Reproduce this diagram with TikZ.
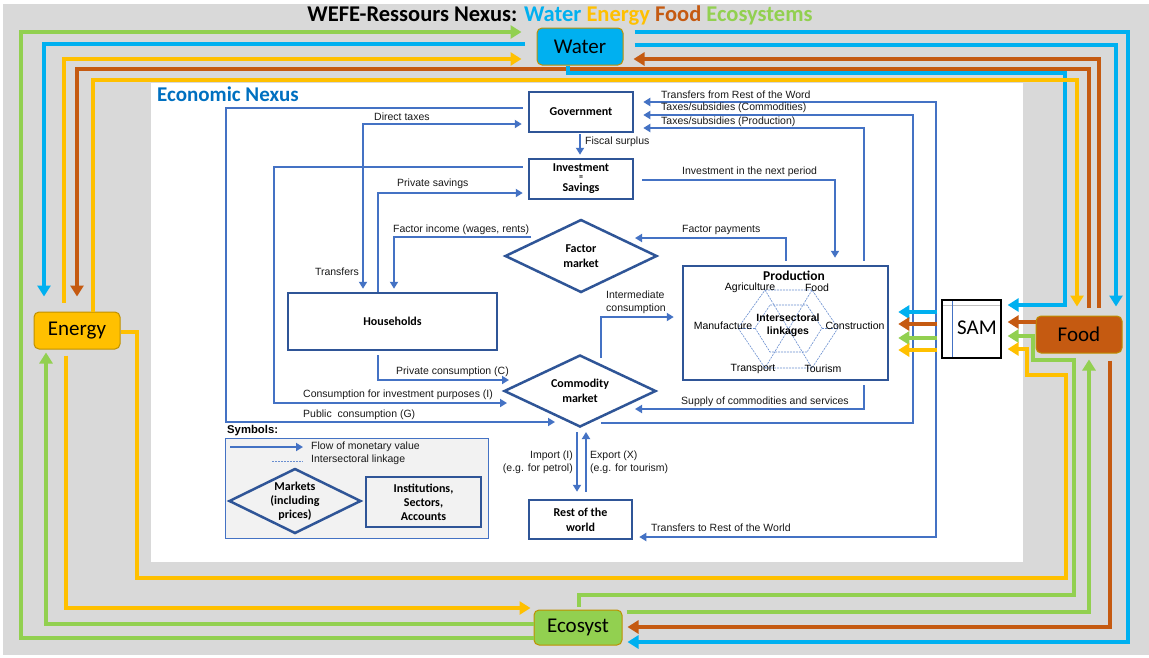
\documentclass[tikz,border=0pt]{standalone}
\usepackage{fontspec}
\setmainfont{Liberation Sans}
\newfontfamily\calfont{Carlito}
\usetikzlibrary{arrows.meta,shapes.geometric}
\definecolor{bl}{HTML}{4472C4}
\definecolor{dbl}{HTML}{2F5597}
\definecolor{cyw}{HTML}{00B0F0}
\definecolor{yel}{HTML}{FFC000}
\definecolor{brn}{HTML}{C55A11}
\definecolor{grn}{HTML}{92D050}
\definecolor{bggray}{HTML}{D9D9D9}
\definecolor{tblue}{HTML}{0070C0}
\definecolor{gold}{HTML}{BF9000}
\definecolor{legfill}{HTML}{F2F2F2}
\begin{document}
\begin{tikzpicture}[x=1pt,y=-1pt,
  flow/.style={draw=bl, line width=2.3pt, -{Triangle[length=7pt,width=8pt]}},
  dflow/.style={draw=bl, line width=2.3pt, {Triangle[length=7pt,width=8pt]}-{Triangle[length=7pt,width=8pt]}},
  box/.style={draw=dbl, line width=2.5pt, fill=white, font=\calfont\bfseries\fontsize{12}{15}\selectfont, align=center, inner sep=0pt},
  mkt/.style={diamond, draw=dbl, line width=2.5pt, fill=white, inner sep=0pt},
  mtxt/.style={font=\calfont\bfseries\fontsize{12}{15}\selectfont, align=center, inner sep=0pt},
  lbl/.style={font=\fontsize{10.5}{12.5}\selectfont, inner sep=0pt, text=black!90},
  sec/.style={font=\fontsize{10.5}{12}\selectfont, inner sep=0pt},
  res/.style={rounded corners=5pt, draw=gold, line width=1pt, font=\calfont\fontsize{21}{22}\selectfont, inner sep=0pt, minimum width=86pt, minimum height=37pt},
  wl/.style={line width=4pt, -{Triangle[length=11pt,width=13pt]}},
  link/.style={draw=bl!80, line width=0.6pt, dash pattern=on 2pt off 1pt}
]
\useasboundingbox (0,0) rectangle (1149,657);
\fill[white] (0,0) rectangle (1149,657);
\fill[bggray] (3,4) rectangle (1149,655);
\fill[white] (151,83) rectangle (1023,562);

% title
\node[font=\calfont\bfseries\fontsize{22.5}{24}\selectfont, inner sep=0pt] (title) at (560,16)
  {WEFE-Ressours Nexus: \textcolor{cyw}{Water} \textcolor{yel}{Energy} \textcolor{brn}{Food} \textcolor{grn}{Ecosystems}};
\node[font=\calfont\bfseries\fontsize{21}{22}\selectfont, text=tblue, anchor=west, inner sep=0pt] (econ) at (157,94) {Economic Nexus};

% resource boxes
\node[res, fill=cyw] (water) at (580,46.5) {Water};
\node[res, fill=yel] (energy) at (77,330.5) {Energy};
\node[res, fill=brn] (food) at (1079,334.5) {Food};
\node[res, fill=grn, minimum width=88pt, minimum height=35pt] (eco) at (578,627.5) {Ecosyst};

% SAM
\node[draw=black, line width=1.2pt, fill=white, minimum width=59pt, minimum height=58pt, inner sep=0pt] (sam) at (971.5,329) {};
\draw[black!25, line width=0.6pt] (943,305) -- (1000,305);
\draw[bl, line width=0.8pt] (952,301) -- (952,357);
\node[font=\calfont\fontsize{21}{22}\selectfont, inner sep=0pt] (samt) at (977,328) {SAM};

% economic nodes
\node[box, minimum width=104pt, minimum height=40pt] (gov) at (581,112) {Government};
\node[box, minimum width=104pt, minimum height=40pt] (inv) at (581,179) {};
\node[font=\calfont\bfseries\fontsize{12}{13}\selectfont, inner sep=0pt] (invt) at (581,168) {Investment};
\node[font=\calfont\bfseries\fontsize{8}{8}\selectfont, inner sep=0pt] (inveq) at (581,178) {=};
\node[font=\calfont\bfseries\fontsize{12}{13}\selectfont, inner sep=0pt] (invs) at (581,188.5) {Savings};
\node[box, minimum width=103pt, minimum height=39pt] (row) at (580.5,519.5) {Rest of the\\world};
\node[box, minimum width=209pt, minimum height=57pt] (hh) at (392.5,321.5) {Households};
\node[box, minimum width=205pt, minimum height=114pt] (prod) at (785.5,323) {};
\node[mkt, minimum width=152pt, minimum height=73pt] (fm) at (581,256) {};
\node[mtxt] (fmt) at (fm.center) {Factor\\market};
\node[mkt, minimum width=152pt, minimum height=72pt] (cm) at (580,391) {};
\node[mtxt] (cmt) at (cm.center) {Commodity\\market};

% production internals
\draw[link] (765,290) -- (812,290) -- (838,328) -- (812,368) -- (765,368) -- (738,328) -- cycle;
\draw[link] (765,290) -- (812,368);
\draw[link] (812,290) -- (765,368);
\draw[link] (770,305) -- (807,305) -- (822,328) -- (807,352) -- (770,352) -- (755,328) -- cycle;
\draw[link] (738,328) -- (755,328);
\draw[link] (822,328) -- (838,328);
\node[font=\calfont\bfseries\fontsize{13.5}{14}\selectfont, inner sep=0pt] (prodt) at (794,276) {Production};
\node[sec] (agr) at (750,288) {Agriculture};
\node[sec] (fd) at (817,288) {Food};
\node[sec] (man) at (723,326) {Manufacture};
\node[sec] (con) at (855,326) {Construction};
\node[sec] (tra) at (753,369) {Transport};
\node[sec] (tou) at (823,369) {Tourism};
\node[font=\bfseries\fontsize{10.5}{13}\selectfont, inner sep=0pt, align=center] (isl) at (788,325) {Intersectoral\\linkages};

% monetary flows
\draw[flow, shorten <=5pt] (gov.west |- 0,108) -- (226,108) -- (226,422) -- (555,422);
\draw[dflow, shorten <=3pt, shorten >=6pt] (hh.north -| 363,0) -- (363,124) -- (gov.west |- 0,124);
\draw[flow, shorten <=5pt] (inv.west |- 0,167) -- (274,167) -- (274,403) -- (507,403);
\draw[flow, shorten >=5pt] (hh.north -| 378,0) -- (378,193) -- (inv.west |- 0,193);
\draw[flow, shorten >=3pt] (531,237) -- (394,237) -- (hh.north -| 394,0);
\draw[flow, shorten <=1pt, shorten >=3pt] (gov.south -| 580,0) -- (inv.north -| 580,0);
\draw[flow, shorten <=8pt, shorten >=7pt] (inv.east |- 0,180) -- (835,180) -- (prod.north -| 835,0);
\draw[flow, shorten <=4pt] (prod.north -| 786,0) -- (786,238) -- (635,238);
\draw[flow, shorten <=4pt, shorten >=9pt] (prod.north -| 864,0) -- (864,128) -- (gov.east |- 0,128);
\draw[flow, shorten >=9pt] (601,423) -- (913,423) -- (913,115) -- (gov.east |- 0,115);
\draw[dflow, shorten <=9pt, shorten >=6pt] (gov.east |- 0,102) -- (936,102) -- (936,537) -- (row.east |- 0,537);
\draw[flow, shorten <=4pt] (prod.south -| 864,0) -- (864,409) -- (635,409);
\draw[flow, shorten >=8pt] (601,358) -- (601,317) -- (prod.west |- 0,317);
\draw[flow, shorten <=4pt] (hh.south -| 378,0) -- (378,380) -- (509,380);
\draw[flow, shorten >=7pt] (577,432) -- (row.north -| 577,0);
\draw[flow, shorten <=7pt] (row.north -| 586,0) -- (586,432);

% flow labels
\node[lbl, anchor=west] (l1) at (374,117) {Direct taxes};
\node[lbl] (l2) at (337,272) {Transfers};
\node[lbl, anchor=west] (l3) at (397,184) {Private savings};
\node[lbl, anchor=west] (l4) at (393,230) {Factor income (wages, rents)};
\node[lbl, anchor=west] (l5) at (585,142) {Fiscal surplus};
\node[lbl, anchor=west] (l6) at (661,95) {Transfers from Rest of the Word};
\node[lbl, anchor=west] (l7) at (661,108) {Taxes/subsidies (Commodities)};
\node[lbl, anchor=west] (l8) at (661,122) {Taxes/subsidies (Production)};
\node[lbl, anchor=west] (l9) at (682,172) {Investment in the next period};
\node[lbl, anchor=west] (l10) at (682,230) {Factor payments};
\node[lbl, anchor=west, align=left] (l11) at (606,302.5) {Intermediate\\consumption};
\node[lbl, anchor=west] (l12) at (396,372) {Private consumption (C)};
\node[lbl, anchor=west] (l13) at (303,395) {Consumption for investment purposes (I)};
\node[lbl, anchor=west] (l14) at (303,415) {Public\ \ consumption (G)};
\node[lbl, anchor=east, align=right] (l15) at (573,462.5) {Import (I)\\(e.g. for petrol)};
\node[lbl, anchor=west, align=left] (l16) at (590,462.5) {Export (X)\\(e.g. for tourism)};
\node[lbl, anchor=west] (l17) at (681,402) {Supply of commodities and services};
\node[lbl, anchor=west] (l18) at (651,528) {Transfers to Rest of the World};

% legend
\node[font=\bfseries\fontsize{11.3}{13}\selectfont, anchor=west, inner sep=0pt] (symt) at (227,431) {Symbols:};
\node[draw=bl, fill=legfill, line width=1pt, minimum width=263pt, minimum height=100pt, inner sep=0pt] (legend) at (356.5,488) {};
\coordinate (la1) at (230,447);
\coordinate (la2) at (303,447);
\draw[flow] (la1) -- (la2);
\coordinate (lb1) at (272,461);
\coordinate (lb2) at (303,461);
\draw[link] (lb1) -- (lb2);
\node[lbl, anchor=west] (lg1) at (311,447) {Flow of monetary value};
\node[lbl, anchor=west] (lg2) at (311,460) {Intersectoral linkage};
\node[mkt, fill=none, minimum width=132pt, minimum height=65pt] (lgm) at (295,501) {};
\node[mtxt, font=\calfont\bfseries\fontsize{12}{14}\selectfont] (lgmt) at (lgm.center) {Markets\\(including\\prices)};
\node[box, fill=none, minimum width=115pt, minimum height=50pt, font=\calfont\bfseries\fontsize{12}{14}\selectfont] (lgi) at (423.5,502) {Institutions,\\Sectors,\\Accounts};

% WEFE resource flows
\draw[wl, draw=grn, shorten >=15pt] (eco.west |- 0,638) -- (21,638) -- (21,32) -- (water.west |- 0,32);
\draw[wl, draw=cyw, shorten <=12pt, shorten >=15pt] (water.west |- 0,44) -- (44,44) -- (energy.north -| 44,0);
\draw[wl, draw=yel, shorten <=9pt, shorten >=15pt] (energy.north -| 64,0) -- (64,59) -- (water.west |- 0,59);
\draw[wl, draw=brn, shorten <=8pt, shorten >=15pt] (food.north -| 1089,0) -- (1089,69) -- (77,69) -- (energy.north -| 77,0);
\draw[wl, draw=cyw, shorten >=6pt] (water.south -| 568,0) -- (568,73) -- (1065,73) -- (1065,305) -- (sam.east |- 0,305);
\draw[wl, draw=yel, shorten >=9pt] (energy.north -| 93,0) -- (93,80) -- (1077,80) -- (food.north -| 1077,0);
\draw[wl, draw=cyw, shorten <=11pt, shorten >=5pt] (water.east |- 0,32) -- (1128,32) -- (1128,642) -- (eco.east |- 0,642);
\draw[wl, draw=cyw, shorten <=11pt, shorten >=9pt] (water.east |- 0,45) -- (1116,45) -- (food.north -| 1116,0);
\draw[wl, draw=brn, shorten <=8pt, shorten >=10pt] (food.north -| 1099,0) -- (1099,59) -- (water.east |- 0,59);
\draw[wl, draw=brn, shorten >=6pt] (food.west |- 0,322) -- (sam.east |- 0,322);
\draw[wl, draw=grn, shorten <=3pt, shorten >=6pt] (eco.north -| 579,0) -- (579,595) -- (1074,595) -- (1074,360) -- (1033,360) -- (1033,336) -- (sam.east |- 0,336);
\draw[wl, draw=yel, shorten >=6pt] (energy.east |- 0,332) -- (137,332) -- (137,578) -- (1066,578) -- (1066,375) -- (1027,375) -- (1027,349) -- (sam.east |- 0,349);
\draw[wl, draw=grn, shorten <=4pt, shorten >=6pt] (eco.east |- 0,612) -- (1089,612) -- (food.south -| 1089,0);
\draw[wl, draw=brn, shorten <=7pt, shorten >=5pt] (food.south -| 1110,0) -- (1110,627) -- (eco.east |- 0,627);
\draw[wl, draw=yel, shorten <=6pt, shorten >=3pt] (energy.south -| 66,0) -- (66,608) -- (eco.west |- 0,608);
\draw[wl, draw=grn, shorten >=3pt] (eco.west |- 0,624) -- (46,624) -- (energy.south -| 46,0);

% SAM to production
\draw[wl, draw=cyw, shorten <=4pt, shorten >=9pt] (sam.west |- 0,312) -- (prod.east |- 0,312);
\draw[wl, draw=brn, shorten <=4pt, shorten >=9pt] (sam.west |- 0,324) -- (prod.east |- 0,324);
\draw[wl, draw=grn, shorten <=4pt, shorten >=9pt] (sam.west |- 0,338) -- (prod.east |- 0,338);
\draw[wl, draw=yel, shorten <=4pt, shorten >=9pt] (sam.west |- 0,350) -- (prod.east |- 0,350);
\end{tikzpicture}
\end{document}
